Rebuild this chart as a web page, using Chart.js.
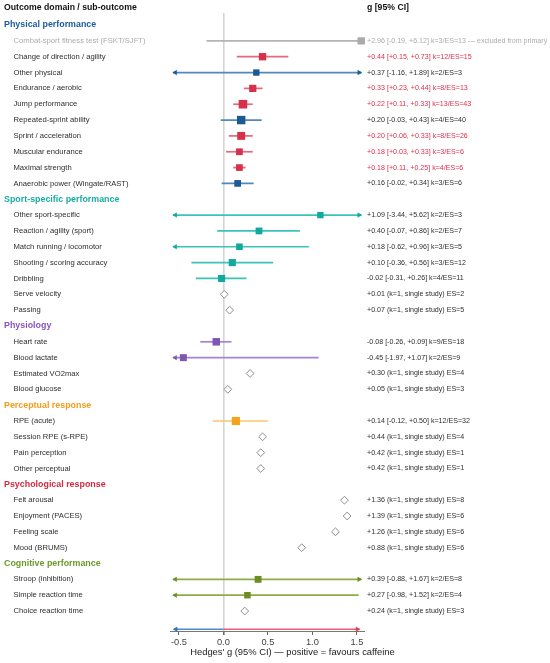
<!DOCTYPE html>
<html>
<head>
<meta charset="utf-8">
<script src="https://cdn.jsdelivr.net/npm/chart.js@4.4.1/dist/chart.umd.min.js"></script>
<style>
  html, body { margin: 0; padding: 0; background: #ffffff; }
  #wrap { width: 550px; height: 663px; position: relative; }
</style>
</head>
<body>
<div id="wrap"><canvas id="c"></canvas></div>
<script>
// ---------------- DATA ----------------
const headerLeft = 'Outcome domain / sub-outcome';
const headerRight = 'g [95% CI]';
const axisTitle = "Hedges' g (95% CI) — positive = favours caffeine";
const xTicks = [-0.5, 0.0, 0.5, 1.0, 1.5];

const domains = ['Physical performance', 'Sport-specific performance', 'Physiology',
                 'Perceptual response', 'Psychological response', 'Cognitive performance'];

const outcomes = [
  'Combat-sport fitness test (FSKT/SJFT)', 'Change of direction / agility', 'Other physical',
  'Endurance / aerobic', 'Jump performance', 'Repeated-sprint ability', 'Sprint / acceleration',
  'Muscular endurance', 'Maximal strength', 'Anaerobic power (Wingate/RAST)',
  'Other sport-specific', 'Reaction / agility (sport)', 'Match running / locomotor',
  'Shooting / scoring accuracy', 'Dribbling', 'Serve velocity', 'Passing',
  'Heart rate', 'Blood lactate', 'Estimated VO2max', 'Blood glucose',
  'RPE (acute)', 'Session RPE (s-RPE)', 'Pain perception', 'Other perceptual',
  'Felt arousal', 'Enjoyment (PACES)', 'Feeling scale', 'Mood (BRUMS)',
  'Stroop (inhibition)', 'Simple reaction time', 'Choice reaction time'
];
const outcomeDomain = [0,0,0,0,0,0,0,0,0,0, 1,1,1,1,1,1,1, 2,2,2,2, 3,3,3,3, 4,4,4,4, 5,5,5];

const estimates = [2.96, 0.44, 0.37, 0.33, 0.22, 0.20, 0.20, 0.18, 0.18, 0.16,
                   1.09, 0.40, 0.18, 0.10, -0.02, 0.01, 0.07,
                   -0.08, -0.45, 0.30, 0.05,
                   0.14, 0.44, 0.42, 0.42,
                   1.36, 1.39, 1.26, 0.88,
                   0.39, 0.27, 0.24];
const ciLower = [-0.19, 0.15, -1.16, 0.23, 0.11, -0.03, 0.06, 0.03, 0.11, -0.02,
                 -3.44, -0.07, -0.62, -0.36, -0.31, null, null,
                 -0.26, -1.97, null, null,
                 -0.12, null, null, null,
                 null, null, null, null,
                 -0.88, -0.98, null];
const ciUpper = [6.12, 0.73, 1.89, 0.44, 0.33, 0.43, 0.33, 0.33, 0.25, 0.34,
                 5.62, 0.86, 0.96, 0.56, 0.26, null, null,
                 0.09, 1.07, null, null,
                 0.50, null, null, null,
                 null, null, null, null,
                 1.67, 1.52, null];
const kStudies = [3, 12, 2, 8, 13, 4, 8, 3, 4, 3,
                  2, 2, 3, 3, 4, 1, 1,
                  9, 2, 1, 1,
                  12, 1, 1, 1,
                  1, 1, 1, 1,
                  2, 2, 1];
const effectCounts = [13, 15, 3, 13, 43, 40, 26, 6, 6, 6,
                      3, 7, 5, 12, 11, 2, 5,
                      18, 9, 4, 3,
                      32, 4, 1, 1,
                      8, 6, 6, 6,
                      8, 4, 3];
const excludedOutcomes = ['Combat-sport fitness test (FSKT/SJFT)'];
const excludedNote = ' — excluded from primary';

// ---------------- STYLE ----------------
const FONT = "'Liberation Sans', Arial, Helvetica, sans-serif";
Chart.defaults.font.family = FONT;
const domainColors = ['#1a5c9c', '#17ada3', '#8a55c0', '#f39c1a', '#d42a40', '#6b9a2a'];
const markerColors = ['#1b5a94', '#12a89d', '#7f56b3', '#f5a31a', '#d6304a', '#6b8e23'];
const lineColors   = ['#5288bb', '#3cc3b9', '#a283d4', '#f8c572', '#e2667a', '#8cac4a'];
const sigMarker = '#d6304a', sigLine = '#e3697c', sigText = '#e0304d';
const grayMarker = '#aaaaaa', grayLine = '#b4b4b4', grayText = '#ababab';
const LIM_LO = -0.565, LIM_HI = 1.55;     // drawing limits for clipped CIs
const ARROW_LO = -0.54, ARROW_HI = 1.525;

// ---------------- ROW LAYOUT ----------------
const rows = [];  // {kind, text, idx, dom}
domains.forEach((d, di) => {
  rows.push({ kind: 'heading', text: d, dom: di });
  outcomes.forEach((o, i) => { if (outcomeDomain[i] === di) rows.push({ kind: 'item', text: o, idx: i, dom: di }); });
});
const bottomRow = rows.length + 0.15;

function fmt(v) { return (v >= 0 ? '+' : '-') + Math.abs(v).toFixed(2); }
function styleFor(i) {
  const d = outcomeDomain[i];
  if (excludedOutcomes.includes(outcomes[i])) return { m: grayMarker, l: grayLine, t: grayText, lab: grayText };
  const sig = ciLower[i] !== null && (ciLower[i] > 0 || ciUpper[i] < 0);
  if (sig) return { m: sigMarker, l: sigLine, t: sigText, lab: '#2e2e2e' };
  return { m: markerColors[d], l: lineColors[d], t: '#2e2e2e', lab: '#2e2e2e' };
}
function rightText(i) {
  if (ciLower[i] === null) return `${fmt(estimates[i])} (k=1, single study) ES=${effectCounts[i]}`;
  let s = `${fmt(estimates[i])} [${fmt(ciLower[i])}, ${fmt(ciUpper[i])}] k=${kStudies[i]}/ES=${effectCounts[i]}`;
  if (excludedOutcomes.includes(outcomes[i])) s += excludedNote;
  return s;
}

// ---------------- DATASETS ----------------
const datasets = [];
const arrowPts = [], arrowRot = [], arrowCol = [];
const sqPts = [], sqRad = [], sqCol = [];
const diaPts = [];
rows.forEach((r, ri) => {
  if (r.kind !== 'item') return;
  const i = r.idx, st = styleFor(i);
  if (ciLower[i] === null) { diaPts.push({ x: estimates[i], y: ri }); return; }
  const lo = Math.max(ciLower[i], LIM_LO), hi = Math.min(ciUpper[i], LIM_HI);
  datasets.push({ type: 'line', data: [{ x: lo, y: ri }, { x: hi, y: ri }], borderColor: st.l,
    borderWidth: 1.7, pointRadius: 0, order: 5, clip: false });
  if (ciLower[i] < LIM_LO) { arrowPts.push({ x: ARROW_LO, y: ri }); arrowRot.push(-90); arrowCol.push(st.m); }
  if (ciUpper[i] > LIM_HI) { arrowPts.push({ x: ARROW_HI, y: ri }); arrowRot.push(90); arrowCol.push(st.m); }
  sqPts.push({ x: Math.min(estimates[i], LIM_HI), y: ri });
  const side = 5.6 + 0.45 * Math.sqrt(effectCounts[i]);
  sqRad.push(side / Math.SQRT2);
  sqCol.push(st.m);
});
// direction arrows along the axis
datasets.push({ type: 'line', data: [{ x: 0, y: bottomRow }, { x: LIM_LO + 0.01, y: bottomRow }], borderColor: '#4a8bc9', borderWidth: 1.4, pointRadius: 0, order: 5, clip: false });
datasets.push({ type: 'line', data: [{ x: 0, y: bottomRow }, { x: LIM_HI - 0.02, y: bottomRow }], borderColor: '#ec5c72', borderWidth: 1.4, pointRadius: 0, order: 5, clip: false });
arrowPts.push({ x: ARROW_LO + 0.005, y: bottomRow }); arrowRot.push(-90); arrowCol.push('#2f74b8');
arrowPts.push({ x: ARROW_HI - 0.02, y: bottomRow }); arrowRot.push(90); arrowCol.push('#e63d57');

datasets.push({ type: 'scatter', data: arrowPts, pointStyle: 'triangle', pointRotation: arrowRot,
  pointRadius: 2.6, backgroundColor: arrowCol, borderColor: arrowCol, borderWidth: 0.5, order: 3, clip: false });
datasets.push({ type: 'scatter', data: sqPts, pointStyle: 'rect', pointRadius: sqRad,
  backgroundColor: sqCol, borderColor: sqCol, borderWidth: 0, order: 1, clip: false });
datasets.push({ type: 'scatter', data: diaPts, pointStyle: 'rectRot', pointRadius: 3.9,
  backgroundColor: '#ffffff', borderColor: '#8e8e8e', borderWidth: 1, order: 1, clip: false });

// ---------------- TEXT PLUGIN ----------------
const textPlugin = {
  id: 'forestText',
  afterDraw(chart) {
    const ctx = chart.ctx, ys = chart.scales.y, xs = chart.scales.x;
    ctx.save();
    ctx.textBaseline = 'middle';
    ctx.textAlign = 'left';
    ctx.fillStyle = '#111';
    ctx.font = `bold 8.7px ${FONT}`;
    ctx.fillText(headerLeft, 4, 7.5);
    ctx.fillText(headerRight, xs.right + 3, 7.5);
    rows.forEach((r, ri) => {
      const y = ys.getPixelForValue(ri);
      if (r.kind === 'heading') {
        ctx.font = `bold 8.9px ${FONT}`;
        ctx.fillStyle = domainColors[r.dom];
        ctx.fillText(r.text, 4, y);
      } else {
        const st = styleFor(r.idx);
        ctx.font = `7.65px ${FONT}`;
        ctx.fillStyle = st.lab;
        ctx.fillText(r.text, 13.5, y);
        ctx.font = `7.1px ${FONT}`;
        ctx.fillStyle = st.t;
        ctx.fillText(rightText(r.idx), xs.right + 3, y);
      }
    });
    // axis title (offset to the right as in the original layout)
    ctx.textAlign = 'center';
    ctx.font = `9.4px ${FONT}`;
    ctx.fillStyle = '#222';
    ctx.fillText(axisTitle, xs.left + 122.5, xs.bottom - 10.5);
    ctx.restore();
  }
};

// ---------------- CHART ----------------
new Chart(document.getElementById('c'), {
  type: 'scatter',
  data: { datasets },
  options: {
    responsive: true,
    maintainAspectRatio: false,
    animation: false,
    events: [],
    layout: { padding: { left: 170, right: 186, top: 13, bottom: 0 } },
    plugins: { legend: { display: false }, tooltip: { enabled: false } },
    scales: {
      x: {
        type: 'linear', min: -0.6, max: 1.58,
        afterBuildTicks: s => { s.ticks = xTicks.map(v => ({ value: v })); },
        afterFit: s => { s.height = 32; },
        ticks: { callback: v => Number(v).toFixed(1), font: { size: 9.3 }, color: '#444', padding: 2, maxRotation: 0 },
        grid: {
          drawOnChartArea: true, drawTicks: true, tickLength: 4,
          color: c => (c.tick && c.tick.value === 0) ? '#d4d4d4' : 'rgba(0,0,0,0)',
          lineWidth: c => (c.tick && c.tick.value === 0) ? 1.6 : 1,
          tickColor: '#666'
        },
        border: { display: true, color: '#777', width: 1 },
        title: { display: false, text: axisTitle }
      },
      y: { type: 'linear', reverse: true, min: -0.76, max: 38.26, display: false }
    }
  },
  plugins: [textPlugin]
});
</script>
</body>
</html>
